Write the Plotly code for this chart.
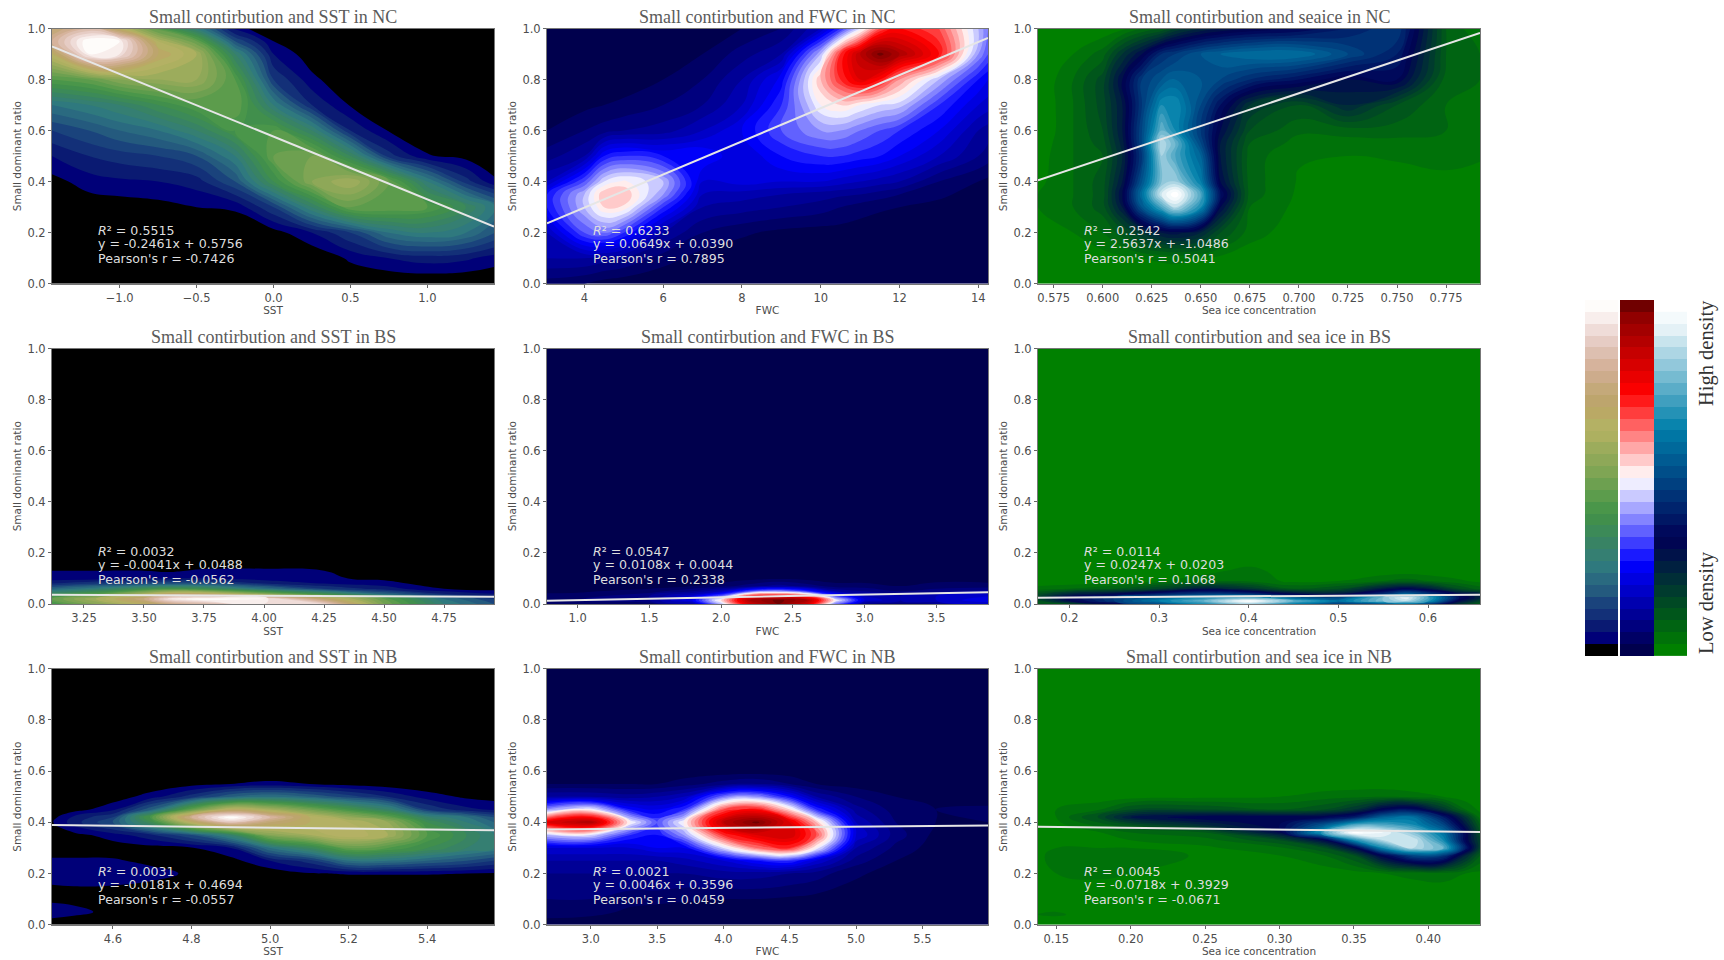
import plotly.graph_objects as go

W, H = 1724, 960

# ---------- palettes (bottom to top) ----------
earth_colors = ["#000000", "#000078", "#0a1a72", "#133078", "#1a437c", "#245a7e", "#2a6a80", "#2f797e",
                "#357f72", "#388364", "#3c8a58", "#418f4c", "#4a964a", "#5c9c4c", "#6da050", "#7fa554",
                "#8ea858", "#9cac5c", "#adb060", "#b4b164", "#baa965", "#bda56d", "#c4a97a", "#cdac8c",
                "#d6b39c", "#ddbfb0", "#e6ccc4", "#efdcd8", "#f8eeec", "#fefcfa"]
seismic_colors = ["#00004d", "#000065", "#00007e", "#000096", "#0000af", "#0000c8", "#0000e0", "#0000f9",
                  "#1a1aff", "#3d3dff", "#6161ff", "#8484ff", "#a7a7ff", "#cacaff", "#eeedff", "#ffeded",
                  "#ffcaca", "#ffa7a7", "#ff8484", "#ff6161", "#ff3d3d", "#ff1a1a", "#fa0000", "#e90000",
                  "#d70000", "#c60000", "#b40000", "#a30000", "#910000", "#700000"]
ocean_colors = ["#008000", "#007209", "#006412", "#00561b", "#004924", "#003b2e", "#002e37", "#002040",
                "#001249", "#000552", "#00095b", "#001764", "#00246d", "#003276", "#004080", "#004e89",
                "#005b92", "#00699b", "#0076a4", "#0984ad", "#2492b6", "#409fbf", "#5badc8", "#76bbd1",
                "#92c8db", "#add6e4", "#c8e4ed", "#e4f1f6", "#f4fafc", "#ffffff"]

# ---------- density tables, in colour-band units (0 = lowest band) ----------
nc_sst_x = [-1.44, -1.2, -1.0, -0.75, -0.5, -0.25, 0, 0.25, 0.5, 0.75, 1.0, 1.25, 1.44]
nc_sst_y = [0, 0.1, 0.2, 0.3, 0.4, 0.5, 0.6, 0.7, 0.8, 0.9, 0.95, 1.0]
nc_sst_z = [
    [0, 0, 0, 0, 0, 0, 0, 0, 0, 0, 0, 0, 0],
    [0, 0, 0, 0, 0, 0, 0, 0, 1.2, 2, 2.5, 2.2, 1.5],
    [0, 0, 0, 0, 0, 0, 0.5, 2, 4, 7, 8, 7, 5],
    [0, 0.3, 0.4, 0.6, 1, 1.2, 4, 9, 14, 14, 13, 10, 7],
    [0.6, 1.5, 1.8, 2, 2.5, 5, 11, 16, 18, 14, 8, 3.5, 1.2],
    [2, 3, 3.5, 4, 5, 8, 14, 15, 10, 3.5, 1.1, 0.6, 0],
    [4, 5, 6, 7, 9, 12, 13, 9, 3, 0.9, 0.2, 0, 0],
    [7, 8, 9, 11, 13, 14, 8, 3, 0.9, 0, 0, 0, 0],
    [13, 14, 16, 17, 17, 13, 4, 1.3, 0, 0, 0, 0, 0],
    [20, 29, 28, 21, 18, 9, 2, 0.3, 0, 0, 0, 0, 0],
    [24, 30, 29, 19, 14, 5, 1, 0, 0, 0, 0, 0, 0],
    [22, 25, 20, 13, 8, 1.5, 0, 0, 0, 0, 0, 0, 0],
]

nc_fwc_x = [3.05, 4, 4.5, 5, 6, 7, 8, 9, 10, 10.5, 11, 11.5, 12, 13, 14, 14.25]
nc_fwc_y = [0, 0.1, 0.2, 0.3, 0.35, 0.4, 0.5, 0.6, 0.7, 0.8, 0.9, 1.0]
nc_fwc_z = [
    [1.5, 1, 0.5, 0.3, 0, 0, 0, 0, 0, 0, 0, 0, 0, 0, 0, 0],
    [4, 4, 3.5, 3, 1.5, 0.5, 0.2, 0, 0, 0, 0, 0, 0, 0, 0, 0],
    [5, 10, 11, 9, 4, 2, 1.2, 0.7, 0.5, 0.5, 0.4, 0.2, 0.2, 0.1, 0, 0],
    [8, 13, 16, 15.8, 9, 4, 3.5, 3, 2.5, 2, 1.5, 1.2, 1, 0.7, 0.3, 0.2],
    [8, 13, 17, 17, 12, 5, 4.5, 4, 3.5, 3.2, 3, 2.5, 2, 1.2, 0.6, 0.4],
    [5, 10, 14, 15.3, 13, 6, 6.5, 6, 6, 5.5, 5, 4.5, 4, 2, 1, 0.7],
    [2.5, 4, 8, 9, 8, 8, 6, 8, 9, 9, 8.5, 8, 7, 5, 3, 2.5],
    [1, 2, 2.5, 3, 3.5, 5, 7, 10, 12, 12, 11, 10, 9, 7, 4, 3.5],
    [0.3, 0.7, 1, 1.2, 2, 3, 5, 9, 15, 16, 15, 14, 13.5, 9, 6, 5.5],
    [0, 0.2, 0.3, 0.5, 1, 2, 4, 7.5, 17, 21, 24, 22, 18, 13, 8, 7],
    [0, 0, 0, 0, 0.3, 1, 2.5, 4, 13, 21, 26, 29.5, 27, 22, 12, 10],
    [0, 0, 0, 0, 0, 0.3, 1, 2, 5, 9, 14, 20, 22, 20, 13, 11],
]

nc_ice_x = [0.567, 0.585, 0.6, 0.61, 0.62, 0.63, 0.637, 0.65, 0.66, 0.675, 0.7, 0.725, 0.75, 0.775, 0.7923]
nc_ice_y = [0, 0.1, 0.2, 0.3, 0.35, 0.4, 0.5, 0.55, 0.6, 0.7, 0.8, 0.9, 1.0]
nc_ice_z = [
    [0, 0, 0, 0, 0, 0, 0, 0, 0, 0, 0, 0, 0, 1, 0.5],
    [0, 0, 0.5, 0.7, 1, 1.2, 1.3, 1, 0.7, 0.3, 0, 0, 0, 0, 0],
    [0, 1, 2, 3.5, 6, 8, 8.5, 7, 4, 1.5, 0.3, 0, 0, 0, 0],
    [1, 2, 3.5, 8, 16, 22, 26, 20, 9, 2, 0.7, 0, 0, 0, 0],
    [1, 2, 3.5, 9, 18, 27, 30, 22, 11, 2.5, 0.8, 0.2, 0, 0.2, 0],
    [0.7, 2, 3.5, 8, 16, 24, 25, 19, 9, 2.5, 0.9, 0.5, 0.3, 0.6, 0.3],
    [0.5, 2, 3, 7, 14, 25, 22, 17, 8, 2.5, 1.1, 1, 1.2, 1.5, 1.2],
    [0.3, 2, 3.5, 7.5, 15, 26, 23, 15, 8, 3, 1.6, 1.5, 1.6, 1.6, 1],
    [0, 2, 4, 8, 15, 23, 20, 14, 9, 4, 2.2, 2.5, 2.5, 2, 1.2],
    [0, 2, 4.5, 8, 14, 20, 20, 15, 11, 6, 4, 7, 4, 2, 1.5],
    [0, 2, 4.5, 9, 14, 16, 17, 16, 15, 13, 11, 9, 10, 2.5, 2],
    [0, 1, 2.5, 6, 9, 13, 14, 16, 17, 18, 18, 15, 12, 3, 2],
    [0, 0, 0.2, 0.7, 2, 3, 5, 7, 8, 9, 10, 12, 14, 3, 1],
]

bs_sst_x = [3.117, 3.3, 3.5, 3.6, 3.75, 4.0, 4.25, 4.5, 4.75, 4.958]
bs_sst_y = [0, 0.02, 0.04, 0.06, 0.08, 0.1, 0.13, 0.15, 0.2, 1.0]
bs_sst_z = [
    [12, 16, 20, 23, 25, 28, 27, 15, 8, 5],
    [14, 18, 23, 28, 30, 29, 22, 14, 7, 4],
    [10, 13, 18, 21, 21, 16, 11, 6, 3, 2],
    [6, 8, 11, 12, 11, 7, 4, 2.5, 1, 0.5],
    [3, 4, 4.5, 5, 5, 3, 2, 1.5, 0.2, 0],
    [1.5, 1.5, 2, 2, 2, 1.5, 1.2, 0.7, 0, 0],
    [1, 1, 1, 0.8, 1.2, 1.2, 1, 0.6, 0, 0],
    [0, 0, 0, 0, 0.6, 0.7, 0.3, 0, 0, 0],
    [0, 0, 0, 0, 0, 0, 0, 0, 0, 0],
    [0, 0, 0, 0, 0, 0, 0, 0, 0, 0],
]

bs_fwc_x = [0.787, 1, 1.5, 1.8, 2, 2.2, 2.4, 2.6, 2.8, 3, 3.25, 3.5, 3.86]
bs_fwc_y = [0, 0.015, 0.03, 0.05, 0.07, 0.1, 0.13, 0.2, 1.0]
bs_fwc_z = [
    [1, 1, 1.5, 4, 13, 25, 29, 25, 11, 3, 2.5, 3, 5],
    [2, 2, 3, 7, 16, 27, 29.5, 27, 15, 6, 4, 5, 7],
    [1.5, 1.5, 3, 6, 11, 22, 24, 21, 10, 5, 4, 5, 6],
    [0.7, 0.8, 1.5, 3, 5, 10, 12, 9, 4, 3, 2, 2.5, 3.5],
    [0.2, 0.3, 0.5, 1, 1.5, 2.5, 3.5, 2.5, 1.5, 1.5, 1, 1.5, 1.5],
    [0, 0, 0.1, 0.2, 0.4, 0.6, 0.8, 0.6, 0.3, 0.3, 0.3, 0.5, 0.4],
    [0, 0, 0, 0, 0, 0.3, 0.3, 0.2, 0, 0, 0.2, 0.3, 0.2],
    [0, 0, 0, 0, 0, 0, 0, 0, 0, 0, 0, 0, 0],
    [0, 0, 0, 0, 0, 0, 0, 0, 0, 0, 0, 0, 0],
]

bs_ice_x = [0.165, 0.2, 0.25, 0.3, 0.35, 0.4, 0.45, 0.5, 0.55, 0.575, 0.6, 0.635, 0.658]
bs_ice_y = [0, 0.012, 0.025, 0.04, 0.06, 0.09, 0.13, 0.2, 1.0]
bs_ice_z = [
    [3, 4, 9, 15, 20, 25, 19, 14, 16, 18, 14, 6, 3],
    [4, 9, 14, 19, 23, 29.5, 23, 18, 24, 26, 21, 9, 5],
    [5, 10, 14, 17, 20, 22, 17, 15, 24, 28, 22, 11, 7],
    [4, 7, 9, 12, 14, 13, 9, 8, 13, 17, 14, 9, 7],
    [1.5, 2, 3, 5, 8, 6, 3, 4, 8, 9.5, 8, 4, 2.5],
    [0, 0, 0.3, 1, 1.5, 1.7, 0.7, 1, 2, 2.5, 2, 1.2, 0.7],
    [0, 0, 0, 0.2, 0.7, 1.3, 0.5, 0, 0.2, 0.3, 0.2, 0, 0],
    [0, 0, 0, 0, 0, 0, 0, 0, 0, 0, 0, 0, 0],
    [0, 0, 0, 0, 0, 0, 0, 0, 0, 0, 0, 0, 0],
]

nb_sst_x = [4.445, 4.5, 4.6, 4.7, 4.8, 4.9, 5.0, 5.1, 5.2, 5.3, 5.4, 5.5, 5.57]
nb_sst_y = [0, 0.05, 0.1, 0.15, 0.2, 0.25, 0.3, 0.35, 0.4, 0.42, 0.45, 0.5, 0.55, 0.6, 1.0]
nb_sst_z = [
    [0.5, 0.3, 0, 0, 0, 0, 0, 0, 0, 0, 0, 0, 0],
    [1.5, 1.3, 0.7, 0, 0, 0, 0, 0, 0, 0, 0, 0, 0],
    [0.8, 0.7, 0.3, 0, 0, 0, 0, 0, 0, 0, 0, 0, 0],
    [0.9, 1, 0.95, 0.7, 0.2, 0, 0, 0, 0, 0, 0, 0, 0],
    [1.7, 1.8, 1.7, 1.4, 0.8, 0.3, 0.3, 0.9, 1.1, 1.1, 1.1, 1, 0.9],
    [1.2, 1.2, 1.15, 0.7, 0.4, 0.6, 2, 3.5, 7, 7, 6, 5, 4],
    [0.3, 0.3, 0.4, 0.6, 0.9, 2, 7, 10, 14, 13, 11, 9, 8],
    [0.2, 0.6, 1.5, 2.8, 5, 9, 16, 18, 20, 18, 13, 10, 8],
    [0.9, 2.5, 5, 11, 20, 26, 22, 20, 19, 17, 11, 8, 6],
    [0.6, 2.2, 4, 13, 24, 30, 25, 20, 17, 14, 9, 7, 5],
    [0, 0.5, 1.7, 6, 14, 20, 18, 15, 12, 9, 4, 2.3, 1.8],
    [0, 0, 0.4, 1.5, 3.5, 6, 7, 6, 4.5, 3, 1.5, 0.8, 0.6],
    [0, 0, 0, 0.2, 0.6, 1, 1.3, 1, 0.6, 0.3, 0.2, 0, 0],
    [0, 0, 0, 0, 0, 0, 0, 0, 0, 0, 0, 0, 0],
    [0, 0, 0, 0, 0, 0, 0, 0, 0, 0, 0, 0, 0],
]

nb_fwc_x = [2.67, 3, 3.3, 3.5, 3.7, 4, 4.25, 4.5, 4.7, 5, 5.3, 5.6, 5.995]
nb_fwc_y = [0, 0.05, 0.1, 0.2, 0.25, 0.3, 0.35, 0.4, 0.45, 0.5, 0.55, 0.6, 0.7, 1.0]
nb_fwc_z = [
    [0, 0, 0, 0, 0, 0, 0, 0, 0, 0, 0, 0, 0],
    [2, 1.5, 0.7, 0.3, 0.3, 0.2, 0.1, 0, 0, 0, 0, 0, 0],
    [2, 2, 1.5, 1.5, 1.2, 1, 1, 0.8, 0.6, 0.3, 0, 0, 0],
    [3, 3, 3, 3, 3, 3.5, 3.5, 3, 2.5, 1.2, 0.5, 0, 0],
    [4, 4, 4, 4, 4.5, 6, 8, 9, 6, 2.5, 1, 0.3, 0.1],
    [6, 6, 6, 7, 7, 14, 19, 21, 15, 4, 1.7, 0.5, 0.2],
    [13, 14, 9, 8, 12, 21, 24, 25, 20, 6, 2.5, 0.7, 0.3],
    [24, 27, 15, 10, 15, 26, 29.5, 24, 17, 5, 2, 1, 1],
    [12, 15, 8, 7, 9, 20, 22, 16, 9, 3.5, 1.5, 1, 1.2],
    [4, 4, 3.5, 4, 5, 11, 12, 8, 4, 2, 1, 0.5, 0.5],
    [1, 1, 1, 1, 1.5, 2.5, 3, 2, 1, 0.5, 0.2, 0, 0],
    [0.2, 0.2, 0.2, 0.2, 0.3, 0.4, 0.4, 0.3, 0, 0, 0, 0, 0],
    [0, 0, 0, 0, 0, 0, 0, 0, 0, 0, 0, 0, 0],
    [0, 0, 0, 0, 0, 0, 0, 0, 0, 0, 0, 0, 0],
]

nb_ice_x = [0.1377, 0.15, 0.18, 0.2, 0.25, 0.3, 0.33, 0.35, 0.37, 0.39, 0.41, 0.425, 0.4347]
nb_ice_y = [0, 0.04, 0.1, 0.2, 0.27, 0.3, 0.33, 0.36, 0.39, 0.42, 0.45, 0.5, 0.55, 1.0]
nb_ice_z = [
    [0, 0, 0, 0, 0, 0, 0, 0, 0, 0, 0, 0, 0],
    [1, 1.2, 0.3, 0, 0, 0, 0, 0, 0, 0, 0, 0, 0],
    [0, 0, 0, 0, 0, 0, 0, 0, 0, 0, 0, 0, 0],
    [0.5, 1, 1.3, 1, 0.3, 0.2, 0.3, 0.5, 1, 1.3, 1.5, 1, 0.7],
    [0.7, 1.5, 2, 1.7, 0.8, 1, 2, 4, 10, 15, 14, 7, 3],
    [0.4, 1, 1, 1, 0.8, 1.8, 4, 9, 20, 26, 23, 12, 5],
    [0.2, 0.4, 0.6, 1, 1.5, 4, 9, 20, 26, 27, 20, 10, 5],
    [0.2, 0.4, 1, 2, 3, 9, 22, 29.5, 28, 24, 18, 10, 4],
    [0.3, 0.6, 2.5, 4, 7, 10, 16, 22, 22, 20, 15, 8, 3],
    [0.4, 1, 4.5, 8, 10, 10, 10, 12, 17, 18, 12, 6, 1.5],
    [0.2, 1, 2, 4, 4, 3, 4, 6, 10, 11, 6, 2, 0.7],
    [0, 0.1, 0.3, 0.5, 0.7, 1, 1.5, 1.7, 2, 1.5, 1, 0.4, 0.2],
    [0, 0, 0, 0, 0.1, 0.2, 0.3, 0.4, 0.3, 0.2, 0.1, 0, 0],
    [0, 0, 0, 0, 0, 0, 0, 0, 0, 0, 0, 0, 0],
]

# ---------- per-panel lists, row by row ----------
titles = ["Small contirbution and SST in NC", "Small contirbution and FWC in NC", "Small contirbution and seaice in NC",
          "Small contirbution and SST in BS", "Small contirbution and FWC in BS", "Small contirbution and sea ice in BS",
          "Small contirbution and SST in NB", "Small contirbution and FWC in NB", "Small contirbution and sea ice in NB"]
xlabels = ["SST", "FWC", "Sea ice concentration"] * 3
grid_x = [nc_sst_x, nc_fwc_x, nc_ice_x, bs_sst_x, bs_fwc_x, bs_ice_x, nb_sst_x, nb_fwc_x, nb_ice_x]
grid_y = [nc_sst_y, nc_fwc_y, nc_ice_y, bs_sst_y, bs_fwc_y, bs_ice_y, nb_sst_y, nb_fwc_y, nb_ice_y]
grid_z = [nc_sst_z, nc_fwc_z, nc_ice_z, bs_sst_z, bs_fwc_z, bs_ice_z, nb_sst_z, nb_fwc_z, nb_ice_z]
palettes = [earth_colors, seismic_colors, ocean_colors] * 3
x_ranges = [[-1.44, 1.433], [3.05, 14.245], [0.567, 0.7923],
            [3.117, 4.958], [0.787, 3.86], [0.165, 0.658],
            [4.445, 5.57], [2.67, 5.995], [0.1377, 0.4347]]
x_ticks = [[-1.0, -0.5, 0.0, 0.5, 1.0], [4, 6, 8, 10, 12, 14], [0.575, 0.6, 0.625, 0.65, 0.675, 0.7, 0.725, 0.75, 0.775],
           [3.25, 3.5, 3.75, 4.0, 4.25, 4.5, 4.75], [1.0, 1.5, 2.0, 2.5, 3.0, 3.5], [0.2, 0.3, 0.4, 0.5, 0.6],
           [4.6, 4.8, 5.0, 5.2, 5.4], [3.0, 3.5, 4.0, 4.5, 5.0, 5.5], [0.15, 0.2, 0.25, 0.3, 0.35, 0.4]]
x_ticktext = [["\u22121.0", "\u22120.5", "0.0", "0.5", "1.0"], ["4", "6", "8", "10", "12", "14"],
              ["0.575", "0.600", "0.625", "0.650", "0.675", "0.700", "0.725", "0.750", "0.775"],
              ["3.25", "3.50", "3.75", "4.00", "4.25", "4.50", "4.75"], ["1.0", "1.5", "2.0", "2.5", "3.0", "3.5"],
              ["0.2", "0.3", "0.4", "0.5", "0.6"], ["4.6", "4.8", "5.0", "5.2", "5.4"],
              ["3.0", "3.5", "4.0", "4.5", "5.0", "5.5"], ["0.15", "0.20", "0.25", "0.30", "0.35", "0.40"]]
y_ticks = [0.0, 0.2, 0.4, 0.6, 0.8, 1.0]
y_ticktext = ["0.0", "0.2", "0.4", "0.6", "0.8", "1.0"]
fit_y_left = [0.930, 0.237, 0.405, 0.036, 0.0129, 0.0244, 0.389, 0.3719, 0.383]
fit_y_right = [0.224, 0.963, 0.983, 0.0285, 0.0461, 0.0366, 0.3686, 0.3872, 0.3617]
stats_r2 = ["0.5515", "0.6233", "0.2542", "0.0032", "0.0547", "0.0114", "0.0031", "0.0021", "0.0045"]
stats_eq = ["y = -0.2461x + 0.5756", "y = 0.0649x + 0.0390", "y = 2.5637x + -1.0486",
            "y = -0.0041x + 0.0488", "y = 0.0108x + 0.0044", "y = 0.0247x + 0.0203",
            "y = -0.0181x + 0.4694", "y = 0.0046x + 0.3596", "y = -0.0718x + 0.3929"]
stats_r = ["Pearson's r = -0.7426", "Pearson's r = 0.7895", "Pearson's r = 0.5041",
           "Pearson's r = -0.0562", "Pearson's r = 0.2338", "Pearson's r = 0.1068",
           "Pearson's r = -0.0557", "Pearson's r = 0.0459", "Pearson's r = -0.0671"]

# ---------- page layout, in pixels ----------
col_px = [(52, 494), (547, 988), (1038, 1480)]
row_px = [(28.5, 283.7), (348.5, 604), (668.7, 924.7)]
bar_col_px = [(1585, 1618), (1620, 1654), (1654, 1687)]
bar_row_px = (300, 656)
BANDS = 30
SERIF = "Liberation Serif"
SANS = "DejaVu Sans"


def stepped(colors):
    n = len(colors)
    out = []
    for i, c in enumerate(colors):
        out.append([i / n, c])
        out.append([(i + 1) / n, c])
    return out


def fx(px):
    return px / W


def fy(px):
    return 1 - px / H


fig = go.Figure()
annotations = []
layout_axes = {}

for i in range(9):
    r, c = divmod(i, 3)
    n = i + 1
    xa, ya = f"x{n}", f"y{n}"
    x0, x1 = x_ranges[i]
    fig.add_trace(go.Contour(
        x=grid_x[i], y=grid_y[i], z=grid_z[i], xaxis=xa, yaxis=ya,
        colorscale=stepped(palettes[i]), zmin=0, zmax=BANDS, showscale=False, hoverinfo="skip",
        contours=dict(coloring="fill", start=1, end=BANDS - 1, size=1, showlines=False),
        line=dict(width=0, smoothing=1.3),
    ))
    fig.add_trace(go.Scatter(
        x=[x0, x1], y=[fit_y_left[i], fit_y_right[i]], xaxis=xa, yaxis=ya, mode="lines",
        line=dict(color="#e6e6e6", width=2), showlegend=False, hoverinfo="skip",
    ))
    layout_axes[f"xaxis{n}"] = dict(
        domain=[fx(col_px[c][0]), fx(col_px[c][1])], range=x_ranges[i], anchor=ya,
        tickvals=x_ticks[i], ticktext=x_ticktext[i], ticks="outside", ticklen=3, tickwidth=1,
        tickcolor="#666", tickfont=dict(family=SANS, size=11.5, color="#4d4d4d"),
        showline=True, mirror=True, linecolor="#777", linewidth=1, showgrid=False, zeroline=False,
        title=dict(text=xlabels[i], font=dict(family=SANS, size=10.5, color="#4d4d4d"), standoff=3),
    )
    layout_axes[f"yaxis{n}"] = dict(
        domain=[fy(row_px[r][1]), fy(row_px[r][0])], range=[0, 1], anchor=xa,
        tickvals=y_ticks, ticktext=y_ticktext, ticks="outside", ticklen=3, tickwidth=1,
        tickcolor="#666", tickfont=dict(family=SANS, size=11.5, color="#4d4d4d"),
        showline=True, mirror=True, linecolor="#777", linewidth=1, showgrid=False, zeroline=False,
        title=dict(text="Small dominant ratio", font=dict(family=SANS, size=10.5, color="#4d4d4d"), standoff=3),
    )
    annotations.append(dict(
        x=fx((col_px[c][0] + col_px[c][1]) / 2), y=fy(row_px[r][0] - 12), xref="paper", yref="paper",
        text=titles[i], showarrow=False, xanchor="center", yanchor="middle",
        font=dict(family=SERIF, size=18, color="#5a5a5a"),
    ))
    left = col_px[c][0] + 44
    bottom = row_px[r][1]
    for text, offset in ((f"<i>R</i>\u00b2 = {stats_r2[i]}", 53), (stats_eq[i], 40), (stats_r[i], 25)):
        annotations.append(dict(
            x=fx(left), y=fy(bottom - offset), xref="paper", yref="paper", text=text, showarrow=False,
            xanchor="left", yanchor="middle", font=dict(family=SANS, size=12.6, color="#dedede"),
        ))

# ---------- the three colour bars, drawn from their palettes ----------
for j, colors in enumerate([earth_colors, seismic_colors, ocean_colors]):
    n = 10 + j
    shown = colors if j < 2 else colors[:-1]
    fig.add_trace(go.Heatmap(
        x=[0], y=list(range(len(shown))), z=[[k + 0.5] for k in range(len(shown))],
        xaxis=f"x{n}", yaxis=f"y{n}", colorscale=stepped(colors), zmin=0, zmax=BANDS,
        showscale=False, hoverinfo="skip",
    ))
    layout_axes[f"xaxis{n}"] = dict(
        domain=[fx(bar_col_px[j][0]), fx(bar_col_px[j][1])], range=[-0.5, 0.5], visible=False, anchor=f"y{n}",
    )
    layout_axes[f"yaxis{n}"] = dict(
        domain=[fy(bar_row_px[1]), fy(bar_row_px[0])], range=[-0.5, BANDS - 0.5], visible=False, anchor=f"x{n}",
    )

annotations.append(dict(x=fx(1706), y=fy(353), xref="paper", yref="paper", text="High density", textangle=-90,
                        showarrow=False, xanchor="center", yanchor="middle",
                        font=dict(family=SERIF, size=20.5, color="#333333")))
annotations.append(dict(x=fx(1706), y=fy(603), xref="paper", yref="paper", text="Low density", textangle=-90,
                        showarrow=False, xanchor="center", yanchor="middle",
                        font=dict(family=SERIF, size=20.5, color="#333333")))

fig.update_layout(
    width=W, height=H, margin=dict(l=0, r=0, t=0, b=0, autoexpand=False), paper_bgcolor="white", plot_bgcolor="white",
    showlegend=False, annotations=annotations, **layout_axes,
)
fig.write_html("out.html", config={"displayModeBar": False},
               post_script="document.body.style.margin='0';document.body.style.overflow='hidden';")
